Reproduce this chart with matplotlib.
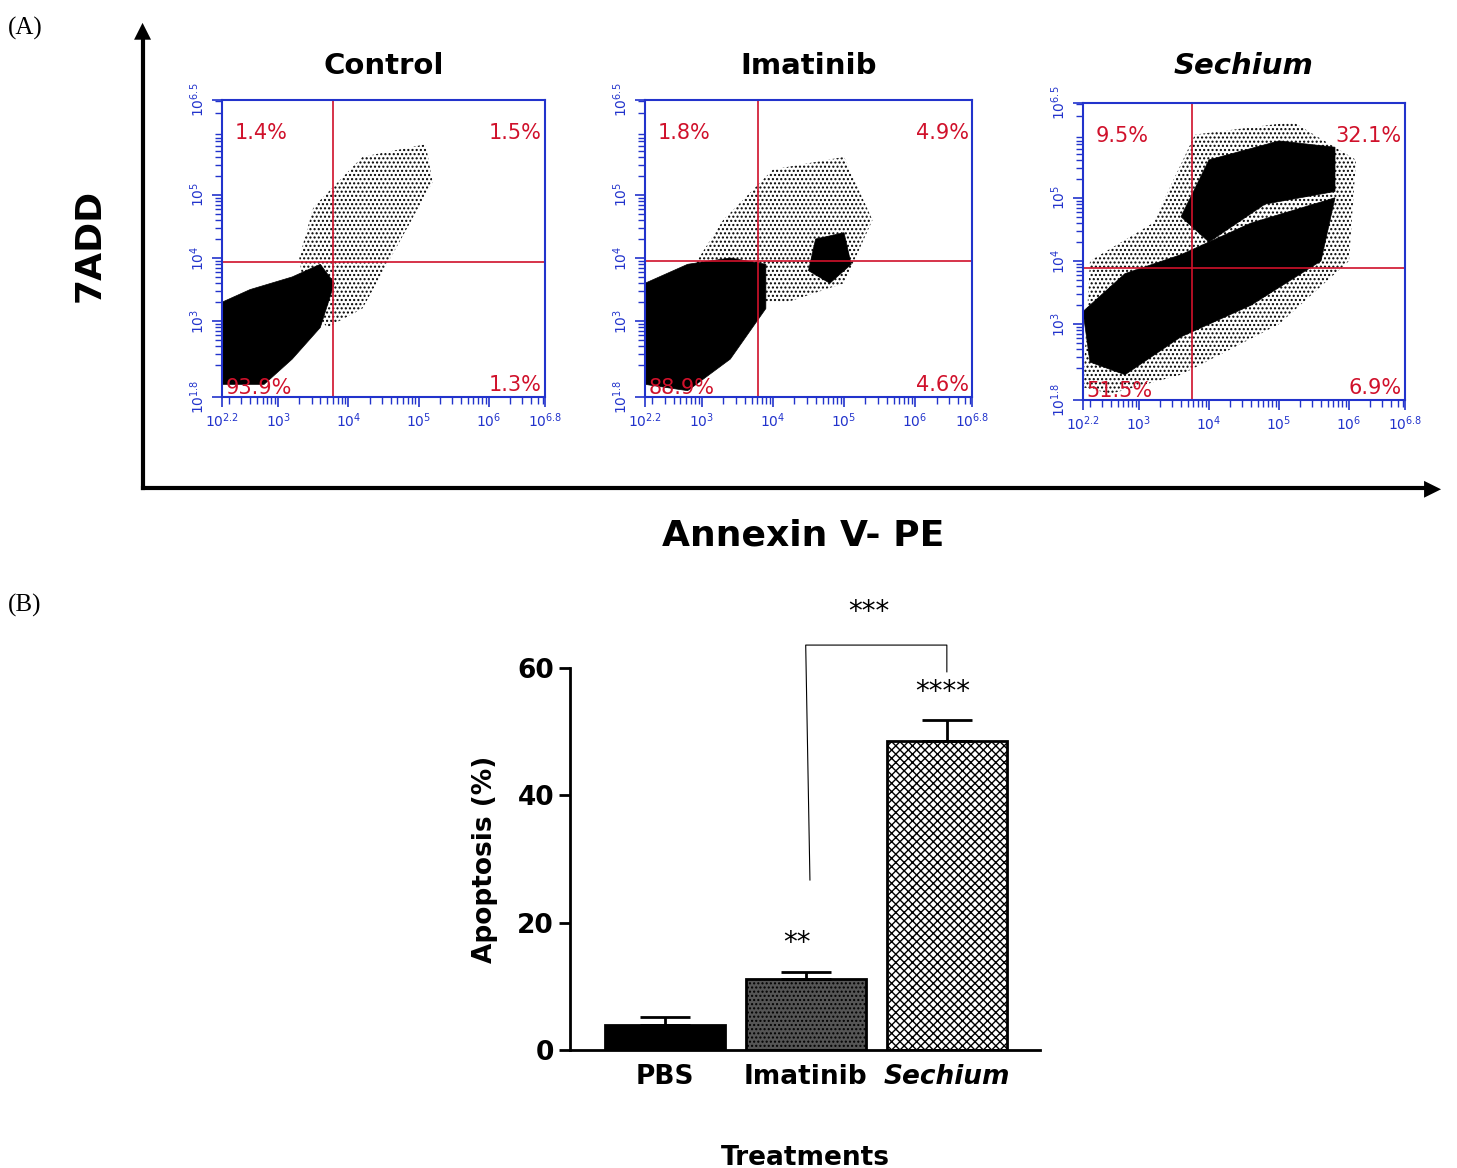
# -*- coding: utf-8 -*-
"""
Annexin V / 7AAD flow cytometry and apoptosis bar chart
"""

# %% header
import numpy as np
import matplotlib.pyplot as plt
from matplotlib.patches import Polygon

# set plot style
plt.rc('axes', labelsize=8) # xaxis and yaxis labels
plt.rc('xtick', labelsize=8) # xtick labels
plt.rc('ytick', labelsize=8) # ytick labels
plt.rcParams['font.size'] = 8
plt.rcParams['hatch.linewidth'] = 1.0

# %% data
panels = ['Control', 'Imatinib', 'Sechium']
quad_x = [3.78, 3.79, 3.76]  # gate positions, log10 units
quad_y = [3.94, 3.95, 3.89]
pct = [['1.4%', '1.5%', '93.9%', '1.3%'],
       ['1.8%', '4.9%', '88.9%', '4.6%'],
       ['9.5%', '32.1%', '51.5%', '6.9%']]

# dense cores and looser clouds, outlined from the picture (log10 units)
core = [
    [[(2.2, 2.0), (2.2, 3.3), (2.6, 3.5), (3.2, 3.7), (3.6, 3.9), (3.8, 3.6), (3.6, 2.9), (3.2, 2.4), (2.8, 2.0)]],
    [[(2.2, 2.0), (2.2, 3.6), (2.8, 3.9), (3.4, 4.0), (3.9, 3.9), (3.9, 3.2), (3.4, 2.4), (2.8, 1.9)],
     [(4.5, 3.8), (4.6, 4.3), (5.0, 4.4), (5.1, 3.9), (4.8, 3.6)]],
    [[(2.3, 2.4), (2.2, 3.2), (2.8, 3.8), (3.6, 4.1), (4.6, 4.6), (5.8, 5.0), (5.6, 4.0), (4.6, 3.3), (3.6, 2.8), (2.8, 2.2)],
     [(3.6, 4.7), (4.0, 5.6), (5.0, 5.9), (5.8, 5.8), (5.8, 5.1), (4.8, 4.9), (4.0, 4.3)]],
]
loose = [
    [(3.3, 4.0), (3.5, 4.8), (4.2, 5.6), (5.1, 5.8), (5.2, 5.2), (4.6, 4.0), (4.2, 3.2), (3.7, 2.9), (3.4, 3.3)],
    [(2.9, 3.9), (3.3, 4.6), (4.0, 5.4), (5.0, 5.6), (5.4, 4.6), (5.0, 3.6), (4.2, 3.3), (3.8, 3.3)],
    [(2.2, 2.0), (2.3, 4.0), (3.2, 4.6), (3.8, 6.0), (5.2, 6.2), (6.1, 5.6), (6.0, 4.0), (5.0, 3.0), (3.6, 2.2), (2.6, 1.9)],
]

treatments = ['PBS', 'Imatinib', 'Sechium']
apoptosis = [4.0, 11.2, 48.5]
sem = [1.2, 1.0, 3.3]

# %% figure
fig = plt.figure(figsize=(14.57, 11.68), dpi=100)
W, H = 1457, 1168

def px_axes(x0, y0, x1, y1):
    return fig.add_axes([x0 / W, 1 - y1 / H, (x1 - x0) / W, (y1 - y0) / H])

boxes = [(222, 100, 545, 397), (645, 100, 972, 397), (1083, 103, 1405, 400)]
minor = [d + np.log10(k) for d in range(2, 7) for k in range(2, 10)]

for i, b in enumerate(boxes):
    ax = px_axes(*b)
    for poly in core[i]:
        ax.add_patch(Polygon(poly, closed=True, facecolor='k', edgecolor='k', lw=0.5))
    ax.add_patch(Polygon(loose[i], closed=True, facecolor='none', edgecolor='k', lw=0,
                         hatch='....', zorder=0))
    ax.axvline(quad_x[i], color='#d0112b', lw=1.2)
    ax.axhline(quad_y[i], color='#d0112b', lw=1.2)
    ax.set_xlim(2.2, 6.8)
    ax.set_ylim(1.8, 6.5)
    ax.set_xticks([2.2, 3, 4, 5, 6, 6.8])
    ax.set_xticklabels([r'$10^{2.2}$', r'$10^3$', r'$10^4$', r'$10^5$', r'$10^6$', r'$10^{6.8}$'])
    ax.set_yticks([1.8, 3, 4, 5, 6.5])
    ax.set_yticklabels([r'$10^{1.8}$', r'$10^3$', r'$10^4$', r'$10^5$', r'$10^{6.5}$'], rotation=90, va='center')
    ax.set_xticks([m for m in minor if 2.2 < m < 6.8], minor=True)
    ax.set_yticks([m for m in minor if 1.8 < m < 6.5], minor=True)
    ax.tick_params(colors='#2233cc', labelsize=10, direction='out', length=7, width=1.2)
    ax.tick_params(which='minor', colors='#2233cc', length=5, width=1)
    for s in ax.spines.values():
        s.set_color('#2233cc')
        s.set_linewidth(1.5)
    kw = dict(color='#d0112b', fontsize=15, transform=ax.transAxes)
    ax.text(0.04, 0.87, pct[i][0], ha='left', **kw)
    ax.text(0.99, 0.87, pct[i][1], ha='right', **kw)
    ax.text(0.01, 0.01, pct[i][2], ha='left', **kw)
    ax.text(0.99, 0.02, pct[i][3], ha='right', **kw)
    fig.text((b[0] + b[2]) / 2 / W, 1 - 66 / H, panels[i], ha='center', va='center',
             fontsize=21, fontweight='bold',
             fontstyle='italic' if panels[i] == 'Sechium' else 'normal')

# big arrows for panel A
fig.add_artist(plt.Line2D([143 / W, 143 / W], [1 - 488 / H, 1 - 40 / H], color='k', lw=3))
fig.add_artist(plt.Line2D([143 / W, 1425 / W], [1 - 488 / H, 1 - 488 / H], color='k', lw=3))
fig.text(143 / W, 1 - 30 / H, '\u25B2', ha='center', va='center', fontsize=16)
fig.text(1433 / W, 1 - 488 / H, '\u25B6', ha='center', va='center', fontsize=16)
fig.text(90 / W, 1 - 245 / H, '7ADD', rotation=90, ha='center', va='center', fontsize=26, fontweight='bold')
fig.text(803 / W, 1 - 535 / H, 'Annexin V- PE', ha='center', va='center', fontsize=26, fontweight='bold')
fig.text(8 / W, 1 - 28 / H, '(A)', fontsize=18, family='Liberation Serif', va='center')
fig.text(8 / W, 1 - 605 / H, '(B)', fontsize=18, family='Liberation Serif', va='center')

# %% bar chart
axb = px_axes(570, 668, 1040, 1050)
x = np.arange(len(treatments))
bars = axb.bar(x, apoptosis, width=0.85, yerr=[np.zeros(3), sem], capsize=18, edgecolor='k',
               linewidth=2, error_kw=dict(elinewidth=2, capthick=2))
bars[0].set_facecolor('k')
bars[1].set_facecolor('#555555')
bars[1].set_hatch('....')
bars[2].set_facecolor('white')
bars[2].set_hatch('xxxx')
axb.set_xlim(-0.67, 2.66)
axb.set_ylim(0, 60)
axb.set_yticks([0, 20, 40, 60])
axb.set_xticks(x)
axb.set_xticklabels(treatments, fontsize=19, fontweight='bold')
axb.get_xticklabels()[2].set_fontstyle('italic')
axb.tick_params(axis='y', labelsize=19, width=2, length=8)
for lab in axb.get_yticklabels():
    lab.set_fontweight('bold')
axb.tick_params(axis='x', length=0, pad=10)
axb.spines['top'].set_visible(False)
axb.spines['right'].set_visible(False)
axb.spines['left'].set_linewidth(2)
axb.spines['bottom'].set_linewidth(2)
axb.set_ylabel('Apoptosis (%)', fontsize=19, fontweight='bold', labelpad=14)
axb.set_xlabel('Treatments', fontsize=19, fontweight='bold', labelpad=40)

# significance marks
axb.plot([1.03, 1.0, 2.0, 2.0], [26.7, 63.6, 63.6, 59.4], color='k', lw=0.8, clip_on=False)
axb.text(1.45, 67.5, '***', ha='center', fontsize=20)
axb.text(1.97, 55.0, '****', ha='center', fontsize=20)
axb.text(0.94, 15.5, '**', ha='center', fontsize=20)

fig.savefig('out.png', dpi=100)
